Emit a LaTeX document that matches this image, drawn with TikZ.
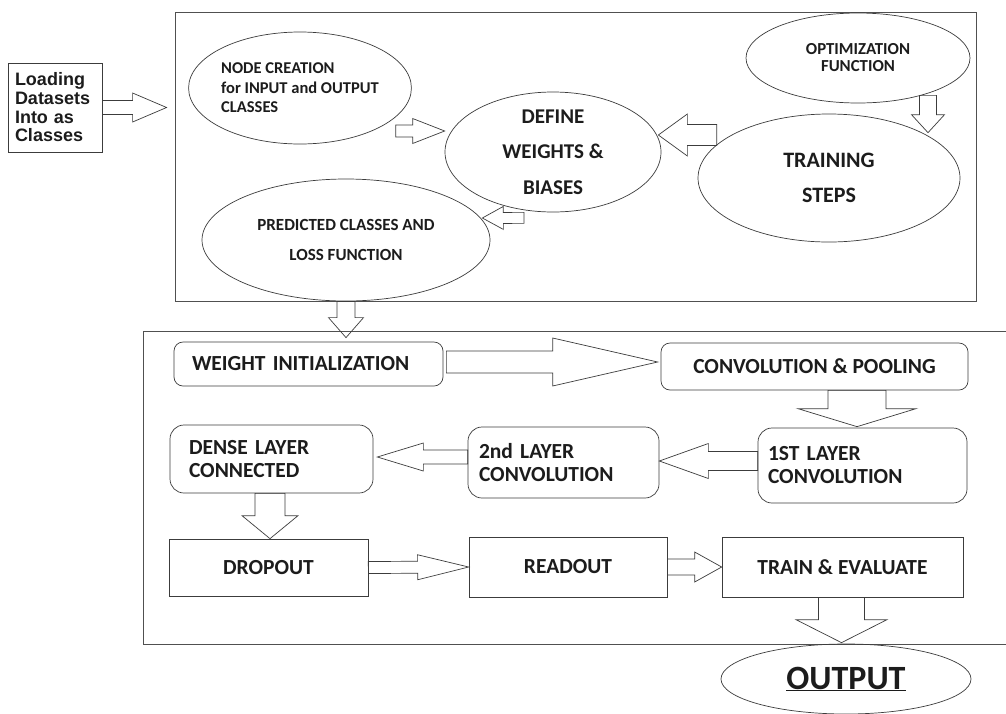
\documentclass[tikz,border=0pt]{standalone}
\usepackage{fontspec}
\setmainfont{Carlito}
\newfontfamily\arialfont{Liberation Sans}
\usetikzlibrary{calc,shapes.geometric,positioning}

\definecolor{linegray}{HTML}{3C3C3C}
\definecolor{framegray}{HTML}{505050}
\definecolor{txt}{HTML}{1C1C1C}

\tikzset{
 frame/.style={draw=framegray, line width=0.8pt, inner sep=0pt},
 oval/.style={ellipse, draw=linegray, line width=0.7pt, inner sep=0pt, align=center, text=txt},
 flatbox/.style={draw=linegray, line width=0.7pt, rounded corners=9pt, inner sep=0pt, text=txt, font=\bfseries\fontsize{21.5}{23}\selectfont},
 roundbox/.style={draw=linegray, line width=0.7pt, rounded corners=14pt, inner xsep=10pt, align=left, text=txt, font=\bfseries\fontsize{21.5}{23}\selectfont},
 plainbox/.style={draw=linegray, line width=0.7pt, inner sep=0pt, text=txt, font=\bfseries\fontsize{21.5}{23}\selectfont},
 blk/.style={draw=linegray, line width=0.7pt, line join=miter},
}

% tail, tip, body half width, head half width, head length
\newcommand\blockarrow[5]{%
 \coordinate (ba) at ($(#2)!#5!(#1)$);
 \draw[blk] ($(#1)!#3!90:(#2)$) -- ($(ba)!#3!-90:(#1)$) -- ($(ba)!#4!-90:(#1)$) -- (#2)
  -- ($(ba)!#4!90:(#1)$) -- ($(ba)!#3!90:(#1)$) -- ($(#1)!#3!-90:(#2)$) -- cycle;
}

\begin{document}
\begin{tikzpicture}[x=1pt,y=-1pt]
 \useasboundingbox (0,0) rectangle (1006,713);
 \clip (0,0) rectangle (1006,713);
 \fill[white] (0,0) rectangle (1006,713);

 \node[frame, minimum width=801pt, minimum height=289pt] (topframe) at (575.5,156.5) {};
 \node[frame, minimum width=872pt, minimum height=313pt] (botframe) at (579,487.5) {};

 \node[draw=linegray, line width=0.8pt, minimum width=94pt, minimum height=89pt, text width=80pt,
   inner xsep=7pt, align=left, text=txt, font=\arialfont\bfseries\fontsize{18}{18.7}\selectfont]
   (load) at (55,107.5) {Loading\\Datasets\\Into as\\Classes};

 \node[oval, minimum width=194pt, minimum height=112pt, align=left, font=\bfseries\fontsize{16.5}{19.5}\selectfont]
   (nodecr) at (300,88) {NODE CREATION\\for INPUT and OUTPUT\\CLASSES};
 \node[oval, minimum width=216pt, minimum height=120pt, font=\bfseries\fontsize{21}{35.5}\selectfont]
   (define) at (553,152) {DEFINE\\WEIGHTS \&\\BIASES};
 \node[oval, minimum width=224pt, minimum height=90pt, font=\bfseries\fontsize{16.8}{17}\selectfont]
   (optim) at (858,58) {OPTIMIZATION\\FUNCTION};
 \node[oval, minimum width=262pt, minimum height=128pt, font=\bfseries\fontsize{22}{35}\selectfont]
   (training) at (829,178) {TRAINING\\STEPS};
 \node[oval, minimum width=288pt, minimum height=122pt, font=\bfseries\fontsize{17}{30}\selectfont]
   (predicted) at (346,240) {PREDICTED CLASSES AND\\LOSS FUNCTION};

 \node[flatbox, minimum width=269pt, minimum height=44pt, text width=233pt, inner xsep=18pt, align=left]
   (winit) at (308.5,364) {WEIGHT INITIALIZATION};
 \node[flatbox, minimum width=307pt, minimum height=47pt] (conv) at (814.5,366.5) {CONVOLUTION \& POOLING};
 \node[roundbox, minimum width=209pt, minimum height=75pt, text width=189pt, inner xsep=10pt]
   (first) at (862.5,465.5) {1ST LAYER\\CONVOLUTION};
 \node[roundbox, minimum width=191pt, minimum height=71pt, text width=169pt, inner xsep=11pt]
   (second) at (563.5,462.5) {2nd LAYER\\CONVOLUTION};
 \node[roundbox, minimum width=203pt, minimum height=68pt, text width=165pt, inner xsep=19pt]
   (dense) at (271.5,459) {DENSE LAYER\\CONNECTED};
 \node[plainbox, minimum width=199pt, minimum height=57pt] (dropout) at (268.5,567.5) {DROPOUT};
 \node[plainbox, minimum width=198pt, minimum height=60pt] (readout) at (568,567) {READOUT};
 \node[plainbox, minimum width=241pt, minimum height=60pt] (train) at (842.5,567) {TRAIN \& EVALUATE};
 \node[oval, minimum width=250pt, minimum height=70pt, font=\bfseries\fontsize{34}{36}\selectfont]
   (output) at (846,679) {\underline{OUTPUT}};

 % block arrows
 \coordinate (a1h) at ($(topframe.west |- load.east)+(-8,0)$);
 \blockarrow{load.east}{a1h}{7pt}{14.5pt}{34pt}
 \coordinate (a2t) at ($(nodecr.east)+(-16,43)$);
 \coordinate (a2h) at ($(define.west)+(0,-21)$);
 \blockarrow{a2t}{a2h}{6pt}{12.5pt}{32pt}
 \coordinate (a3t) at ($(training.west)+(19,-43)$);
 \coordinate (a3h) at ($(define.east)+(-3,-17)$);
 \blockarrow{a3t}{a3h}{10.5pt}{21pt}{29pt}
 \coordinate (a4t) at ($(optim.south)+(70,-8)$);
 \coordinate (a4h) at ($(training.north)+(99,19)$);
 \blockarrow{a4t}{a4h}{8.5pt}{16.5pt}{18pt}
 \coordinate (a5t) at ($(define.south)+(-29,5.5)$);
 \coordinate (a5h) at ($(predicted.east)+(-8,-22)$);
 \blockarrow{a5t}{a5h}{5.5pt}{11.5pt}{21pt}
 \coordinate (a6t) at (predicted |- topframe.south);
 \coordinate (a6h) at ($(predicted |- botframe.north)+(0,7)$);
 \blockarrow{a6t}{a6h}{9pt}{17.5pt}{20pt}
 \coordinate (a7t) at ($(winit.east)+(3,-2)$);
 \coordinate (a7h) at ($(conv.west)+(-3,-4.5)$);
 \blockarrow{a7t}{a7h}{11pt}{24pt}{105pt}
 \coordinate (a8h) at ($(first.north)+(-5.5,-1)$);
 \coordinate (a8t) at (a8h |- conv.south);
 \blockarrow{a8t}{a8h}{29pt}{59pt}{18pt}
 \coordinate (a9t) at ($(first.west)+(0,-4.5)$);
 \coordinate (a9h) at (second.east |- a9t);
 \blockarrow{a9t}{a9h}{9.5pt}{17.5pt}{49pt}
 \coordinate (a10t) at ($(second.west)+(0,-5.5)$);
 \coordinate (a10h) at ($(dense.east |- a10t)+(4,0)$);
 \blockarrow{a10t}{a10h}{7pt}{14pt}{46pt}
 \coordinate (a11t) at ($(dense.south)+(-1.5,0)$);
 \coordinate (a11h) at (a11t |- dropout.north);
 \blockarrow{a11t}{a11h}{15pt}{28pt}{23pt}
 \blockarrow{dropout.east}{readout.west}{6pt}{12.5pt}{51pt}
 \blockarrow{readout.east}{train.west}{8pt}{15pt}{27pt}
 \coordinate (a14t) at ($(train.south)+(-1,0)$);
 \coordinate (a14h) at ($(a14t |- output.north)+(0,-1)$);
 \blockarrow{a14t}{a14h}{23pt}{45.5pt}{23pt}
\end{tikzpicture}
\end{document}
